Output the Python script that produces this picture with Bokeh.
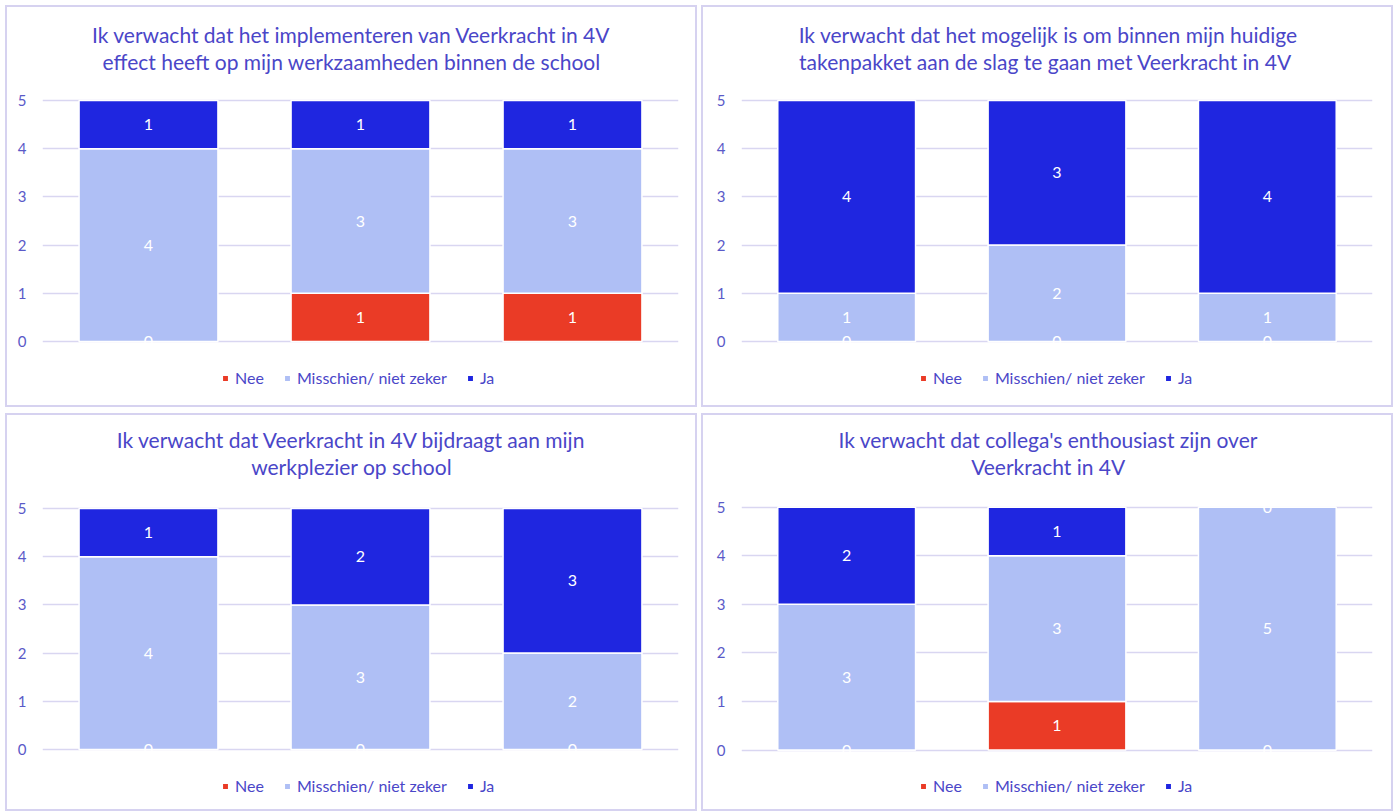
from bokeh.plotting import figure
from bokeh.layouts import column, row
from bokeh.models import ColumnDataSource, FixedTicker, Label, Range1d
from bokeh.core.properties import value
from bokeh.embed import file_html
from bokeh.resources import INLINE

# ---------------- data ----------------
groups = ["1", "2", "3"]
series = ["Nee", "Misschien/ niet zeker", "Ja"]
y_ticks = [0, 1, 2, 3, 4, 5]

title_1 = ["Ik verwacht dat het implementeren van Veerkracht in 4V",
           "effect heeft op mijn werkzaamheden binnen de school"]
nee_1 = [0, 1, 1]
misschien_1 = [4, 3, 3]
ja_1 = [1, 1, 1]

title_2 = ["Ik verwacht dat het mogelijk is om binnen mijn huidige",
           "takenpakket  aan de slag te gaan met Veerkracht in 4V"]
nee_2 = [0, 0, 0]
misschien_2 = [1, 2, 1]
ja_2 = [4, 3, 4]

title_3 = ["Ik verwacht dat Veerkracht in 4V bijdraagt aan mijn",
           "werkplezier op school"]
nee_3 = [0, 0, 0]
misschien_3 = [4, 3, 2]
ja_3 = [1, 2, 3]

title_4 = ["Ik verwacht dat collega's enthousiast zijn over",
           "Veerkracht in 4V"]
nee_4 = [0, 1, 0]
misschien_4 = [3, 3, 5]
ja_4 = [2, 1, 0]

# ---------------- style ----------------
COLORS = ["#EA3B26", "#AFBFF5", "#1F26E0"]
TITLE_COLOR = "#4A46C8"
TICK_COLOR = "#5A5AC8"
GRID_COLOR = "#D9D6F1"
BORDER_COLOR = "#D6D2F0"
FONT = "Lato"
PX_PER_UNIT = 48.2
BAR_WIDTH = 0.655
BW = 2  # css border width


def panel(title_lines, nee, misschien, ja, width, height, left, right,
          top_px, zero_px, title_px, legend_x, legend_y):
    y_end = 5 + top_px / PX_PER_UNIT
    y_start = -(height - zero_px) / PX_PER_UNIT
    p = figure(width=width, height=height, output_backend="svg",
               toolbar_location=None, x_axis_location=None,
               x_range=Range1d(0, len(groups)), y_range=Range1d(y_start, y_end),
               min_border_left=left, min_border_right=right,
               min_border_top=0, min_border_bottom=0,
               styles={"border": f"{BW}px solid {BORDER_COLOR}",
                       "box-sizing": "border-box"})
    p.outline_line_color = None
    p.xgrid.visible = False
    p.ygrid.ticker = FixedTicker(ticks=y_ticks)
    p.ygrid.grid_line_color = GRID_COLOR
    p.ygrid.grid_line_width = 1.5
    p.yaxis.ticker = FixedTicker(ticks=y_ticks)
    p.yaxis.axis_line_color = None
    p.yaxis.major_tick_line_color = None
    p.yaxis.minor_tick_line_color = None
    p.yaxis.major_tick_out = 0
    p.yaxis.major_tick_in = 0
    p.yaxis.major_label_standoff = 16
    p.yaxis.major_label_text_color = TICK_COLOR
    p.yaxis.major_label_text_font = FONT
    p.yaxis.major_label_text_font_size = "15px"

    xs = [i + 0.5 for i in range(len(groups))]
    data = {"x": xs, "Nee": nee, "Misschien/ niet zeker": misschien, "Ja": ja}
    src = ColumnDataSource(data)
    p.vbar_stack(series, x="x", width=BAR_WIDTH, color=COLORS, source=src,
                 line_color="white", line_width=1.5, legend_label=series)

    # data labels at segment centres
    lx, ly, lt = [], [], []
    bottoms = [0] * len(groups)
    for vals in (nee, misschien, ja):
        for i, v in enumerate(vals):
            lx.append(xs[i])
            ly.append(bottoms[i] + v / 2)
            lt.append(str(v))
            bottoms[i] += v
    p.text(x=lx, y=ly, text=lt, text_color="white", text_align="center",
           text_baseline="middle", text_font=value(FONT), text_font_size="16px")

    # two-line title
    for k, line in enumerate(title_lines):
        y_pos = 5 + (top_px - title_px - 27 * k) / PX_PER_UNIT
        p.add_layout(Label(x=1.458, y=y_pos, text=line, text_align="center",
                           text_baseline="middle", text_color=TITLE_COLOR,
                           text_font=FONT, text_font_size="21px"))

    lg = p.legend[0]
    lg.orientation = "horizontal"
    lg.location = (legend_x, legend_y)
    lg.background_fill_alpha = 0
    lg.border_line_color = None
    lg.padding = 0
    lg.margin = 0
    lg.spacing = 19
    lg.label_standoff = 6
    lg.glyph_width = 8
    lg.glyph_height = 8
    lg.label_height = 16
    lg.label_text_font = FONT
    lg.label_text_font_size = "16px"
    lg.label_text_color = TITLE_COLOR
    return p


p1 = panel(title_1, nee_1, misschien_1, ja_1, 692, 402, 35, 21, 93, 334, 27, 179, 22)
p2 = panel(title_2, nee_2, misschien_2, ja_2, 692, 402, 38, 23, 93, 334, 27, 178, 22)
p3 = panel(title_3, nee_3, misschien_3, ja_3, 692, 398, 35, 21, 93, 334, 24, 179, 18)
p4 = panel(title_4, nee_4, misschien_4, ja_4, 692, 398, 38, 23, 91, 335, 24, 178, 18)

layout = column(row(p1, p2, spacing=4), row(p3, p4, spacing=4), spacing=6,
                margin=(5, 0, 0, 5))

open("out.html", "w").write(file_html(layout, INLINE))
